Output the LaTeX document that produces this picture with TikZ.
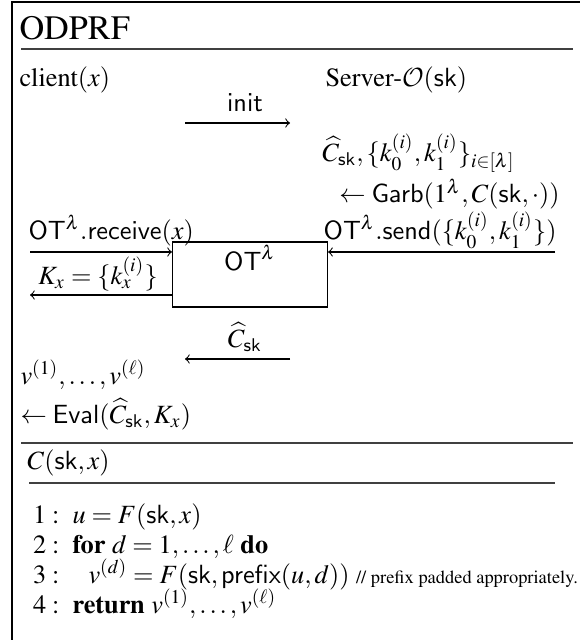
\documentclass[tikz,border=0pt]{standalone}
\usepackage[T1]{fontenc}
\usepackage{mathptmx}
\DeclareMathAlphabet{\mathcal}{OMS}{cmsy}{m}{n}
\usetikzlibrary{positioning}

\newcommand{\sfn}[1]{\mathsf{#1}}

\begin{document}
\begin{tikzpicture}[
    x=0.38pt, y=-0.38pt,
    txt/.style={inner sep=0pt, anchor=base west},
    txtr/.style={inner sep=0pt, anchor=base east},
    txtc/.style={inner sep=0pt, anchor=base},
    msg/.style={->},
    rulel/.style={line width=0.5pt, black!75},
    otbox/.style={draw, minimum width=155*0.38pt, minimum height=65*0.38pt, inner sep=0pt}
]

% Canvas and outer frame
\useasboundingbox (0,0) rectangle (580,640);
\draw (12,640) -- (12,2) -- (580,2);

% Heading
\node[txt, font=\fontsize{13}{15}\selectfont] (title) at (19,40) {ODPRF};
\draw[rulel] (21,49) -- (573,49);

% Parties
\node[txt] (client) at (19,87) {client$(x)$};
\node[txt] (server) at (325,87) {Server-$\mathcal{O}(\sfn{sk})$};

% init message
\node[txtc] (initlbl) at (245,112) {$\sfn{init}$};
\coordinate (initA) at (185,123);
\coordinate (initB) at (290,123);
\draw[msg] (initA) -- (initB);

% Server garbles
\node[txt] (garbA) at (322,162) {$\widehat{C}_{\sfn{sk}},\{k_0^{(i)},k_1^{(i)}\}_{i\in[\lambda]}$};
\node[txtr] (garbB) at (560,203) {$\leftarrow\sfn{Garb}(1^{\lambda},C(\sfn{sk},\cdot))$};

% Oblivious transfer
\node[txt] (recv) at (28,240) {$\sfn{OT}^{\lambda}.\sfn{receive}(x)$};
\node[txtr] (send) at (557,240) {$\sfn{OT}^{\lambda}.\sfn{send}(\{k_0^{(i)},k_1^{(i)}\})$};
\node[otbox] (ot) at (250,274.5) {};
\node[txtc] (otlbl) at (ot.north) [yshift=-11pt] {$\sfn{OT}^{\lambda}$};
\coordinate (recvA) at (30,252);
\coordinate (sendA) at (555,252);
\coordinate (keysB) at (30,295);
\draw[msg] (recvA) -- (recvA -| ot.west);
\draw[msg] (sendA) -- (sendA -| ot.east);
\draw[msg] (keysB -| ot.west) -- (keysB);
\node[txtc] (keys) at (98,285) {$K_x=\{k_x^{(i)}\}$};

% Garbled circuit
\node[txtc] (gclbl) at (245,348) {$\widehat{C}_{\sfn{sk}}$};
\coordinate (gcA) at (290,359);
\coordinate (gcB) at (185,359);
\draw[msg] (gcA) -- (gcB);

% Client evaluates
\node[txt] (outA) at (20,384) {$v^{(1)},\dots,v^{(\ell)}$};
\node[txt] (outB) at (20,424) {$\leftarrow\sfn{Eval}(\widehat{C}_{\sfn{sk}},K_x)$};
\draw[rulel] (21,443) -- (573,443);

% Circuit C
\node[txt] (circ) at (27,469) {$C(\sfn{sk},x)$};
\draw[rulel] (29,483) -- (555,483);
\foreach \n/\y/\ind/\code in {
    1/523/72/{$u=F(\sfn{sk},x)$},
    2/553/72/{\textbf{for} $d=1,\dots,\ell$ \textbf{do}},
    3/583/88/{$v^{(d)}=F(\sfn{sk},\sfn{prefix}(u,d))$\ {\scriptsize// prefix padded appropriately.}},
    4/613/72/{\textbf{return} $v^{(1)},\dots,v^{(\ell)}$}} {
    \node[txtr] (num\n) at (60,\y) {$\n:$};
    \node[txt] (line\n) at (\ind,\y) {\code};
}

\end{tikzpicture}
\end{document}
